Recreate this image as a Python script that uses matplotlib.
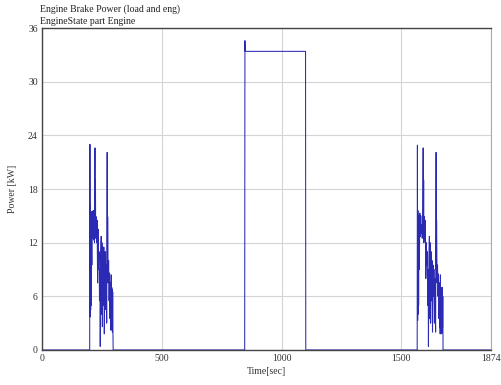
import matplotlib
matplotlib.use("Agg")
import matplotlib.pyplot as plt

plt.rcParams['font.family'] = ['Liberation Serif', 'DejaVu Serif']

# 第一段 (約 200~300 秒)
left_t = [0, 199, 200, 201, 202, 203, 204, 205, 206, 208, 210, 212, 214, 216, 218, 219,
          221, 222, 223, 224, 226, 228, 230, 232, 234, 236, 238, 240, 242, 243, 245,
          247, 249, 250, 252, 254, 256, 258, 260, 262, 264, 266, 268, 270, 272, 273,
          274, 276, 278, 280, 282, 284, 285, 286, 287, 288, 289, 290, 291, 292, 293,
          294, 295, 296, 297]
left_p = [0, 0, 23.0, 3.7, 16.2, 4.5, 15.5, 5.0, 14.0, 9.5, 15.5, 12.5, 15.6, 12.3, 14.5, 12.0,
          22.6, 13.0, 19.0, 12.5, 14.9, 12.0, 14.5, 7.5, 13.5, 9.0, 11.0, 5.5, 9.0, 0.4, 10.5,
          12.7, 4.0, 12.0, 2.6, 11.5, 5.0, 11.5, 1.8, 8.0, 11.0, 4.5, 9.5, 3.0, 22.1, 8.0,
          14.9, 7.5, 10.0, 5.5, 8.6, 3.5, 7.5, 2.5, 7.2, 2.2, 8.4, 3.0, 7.0, 2.5, 6.8,
          2.0, 6.5, 2.2, 0]

# 中段定速 (約 847~1100 秒)
mid_t = [297, 846, 847, 848, 1100, 1101]
mid_p = [0, 0, 34.6, 33.4, 33.4, 0]

# 第二段 (約 1567~1675 秒)
right_t = [1101, 1566, 1567, 1568, 1569, 1570, 1571, 1572, 1573, 1575, 1577, 1579, 1581,
           1583, 1585, 1587, 1589, 1591, 1592, 1593, 1594, 1596, 1598, 1600, 1602, 1604,
           1606, 1608, 1610, 1612, 1613, 1615, 1617, 1619, 1620, 1622, 1624, 1626, 1628,
           1630, 1632, 1634, 1636, 1638, 1640, 1643, 1645, 1646, 1647, 1649, 1651, 1653,
           1655, 1657, 1659, 1660, 1661, 1662, 1663, 1664, 1665, 1666, 1667, 1668, 1669,
           1670, 1671, 1672, 1673, 1674, 1874]
right_p = [0, 0, 22.9, 3.3, 15.6, 4.0, 15.0, 5.0, 14.5, 9.0, 15.3, 12.7, 15.0, 13.0, 14.0, 12.5,
           13.5, 22.6, 12.5, 19.0, 12.0, 14.9, 12.3, 14.5, 8.0, 12.0, 9.5, 11.0, 5.0, 9.0, 0.4,
           10.0, 12.7, 3.5, 12.0, 3.0, 11.0, 5.5, 10.0, 2.0, 9.5, 6.0, 9.0, 3.0, 8.0, 2.0,
           22.1, 9.0, 14.5, 7.5, 9.5, 6.0, 8.5, 3.5, 7.5, 2.5, 7.2, 1.8, 8.4, 2.5, 7.0,
           2.2, 6.8, 1.8, 6.5, 2.0, 7.0, 2.5, 6.0, 0, 0]

time = left_t + mid_t + right_t
power = left_p + mid_p + right_p

x_ticks = [0, 500, 1000, 1500, 1874]
y_ticks = [0, 6, 12, 18, 24, 30, 36]

fig = plt.figure(figsize=(5.02, 3.85), dpi=100)
ax = fig.add_axes([0.0837, 0.091, 0.8943, 0.836])

ax.plot(time, power, color='#2a2ab4', linewidth=0.75)

ax.set_xlim(0, 1874)
ax.set_ylim(0, 36)
ax.set_xticks(x_ticks)
ax.set_yticks(y_ticks)
ax.tick_params(length=0, labelsize=7, colors='#333333', pad=3)
ax.grid(True, color='#d4d4d4', linewidth=0.8)
ax.set_axisbelow(True)

for side in ['left', 'bottom', 'top']:
    ax.spines[side].set_color('#444444')
    ax.spines[side].set_linewidth(1.0)
ax.spines['right'].set_color('#aaaaaa')
ax.spines['right'].set_linewidth(0.8)

ax.set_xlabel('Time[sec]', fontsize=7, color='#333333', labelpad=3)
ax.set_ylabel('Power [kW]', fontsize=7, color='#333333', labelpad=8)

fig.text(0.08, 0.988, 'Engine Brake Power (load and eng)', fontsize=7,
         color='#222222', ha='left', va='top')
fig.text(0.08, 0.956, 'EngineState part Engine', fontsize=7,
         color='#222222', ha='left', va='top')

fig.savefig('out.png', dpi=100)
